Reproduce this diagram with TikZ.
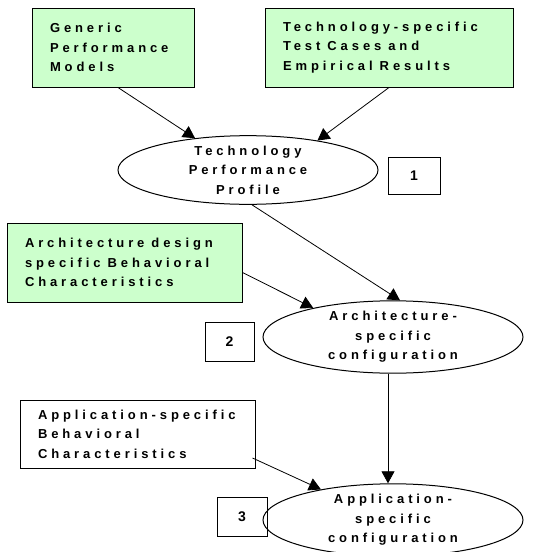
\documentclass[tikz,border=0pt]{standalone}
\usepackage{fontspec}
\usepackage{xcolor}
\usepackage{tikz}
\usetikzlibrary{shapes.geometric, arrows.meta, positioning}
\setmainfont{Liberation Sans}
\newfontfamily\spacedfont{Liberation Sans}[LetterSpace=30]
\newcommand{\boxfont}{\spacedfont\bfseries\fontsize{13}{19.5}\selectfont}
\newcommand{\ws}{\hspace{7pt}}
\definecolor{boxgreen}{HTML}{CCFFCC}
\tikzstyle{inbox} = [rectangle, draw=black, line width=1pt, fill=boxgreen,
    align=left, inner xsep=18pt, inner ysep=0pt, font=\boxfont]
\tikzstyle{stage} = [ellipse, draw=black, line width=1pt, fill=white, inner sep=0pt,
    align=center, font=\boxfont]
\tikzstyle{numbox} = [rectangle, draw=black, line width=1pt, inner sep=0pt,
    font=\bfseries\fontsize{14}{16}\selectfont]
\tikzstyle{arrow} = [line width=0.8pt,-{Triangle[length=12pt,width=13pt]}]

\begin{document}
\begin{tikzpicture}[x=1pt, y=-1pt]
  \useasboundingbox (0,0) rectangle (544,552);

  \node (generic) [inbox, minimum width=162pt, minimum height=79pt, text width=126pt]
        at (113,47.5) {Generic\\Performance\\Models};
  \node (techtest) [inbox, minimum width=248pt, minimum height=79pt, text width=212pt]
        at (389,47.5) {Technology-specific\\Test\ws Cases\ws and\\Empirical\ws Results};
  \node (profile) [stage, minimum width=260pt, minimum height=66pt]
        at (248,170) {Technology\\Performance\\Profile};
  \node (num1) [numbox, minimum width=52pt, minimum height=37pt] at (414,175.5) {1};

  \node (archdesign) [inbox, minimum width=235pt, minimum height=79pt, text width=199pt]
        at (124.5,262.5) {Architecture\ws design\\specific\ws Behavioral\\Characteristics};
  \node (archconf) [stage, minimum width=260pt, minimum height=70pt]
        at (393,337) {Architecture-\\specific\\configuration};
  \node (num2) [numbox, minimum width=49pt, minimum height=39pt] at (229.5,341.5) {2};

  \node (appbeh) [inbox, fill=white, minimum width=235pt, minimum height=68pt, text width=199pt]
        at (137.5,434) {Application-specific\\Behavioral\\Characteristics};
  \node (appconf) [stage, minimum width=260pt, minimum height=66pt]
        at (393,520) {Application-\\specific\\configuration};
  \node (num3) [numbox, minimum width=50pt, minimum height=39pt] at (242,516.5) {3};

  \draw[arrow] ([xshift=5pt]generic.south) -- (profile.149);
  \draw[arrow] (techtest.south) -- (profile.23);
  \draw[arrow] ([xshift=4pt]profile.south) -- ([xshift=7pt]archconf.north);
  \draw[arrow] ([yshift=-10pt]archdesign.east) -- (archconf.160);
  \draw[arrow] ([xshift=-5pt]archconf.south) -- ([xshift=-5pt]appconf.north);
  \draw[arrow] ([xshift=-3pt,yshift=-24pt]appbeh.east) -- (appconf.157);

\end{tikzpicture}
\end{document}
